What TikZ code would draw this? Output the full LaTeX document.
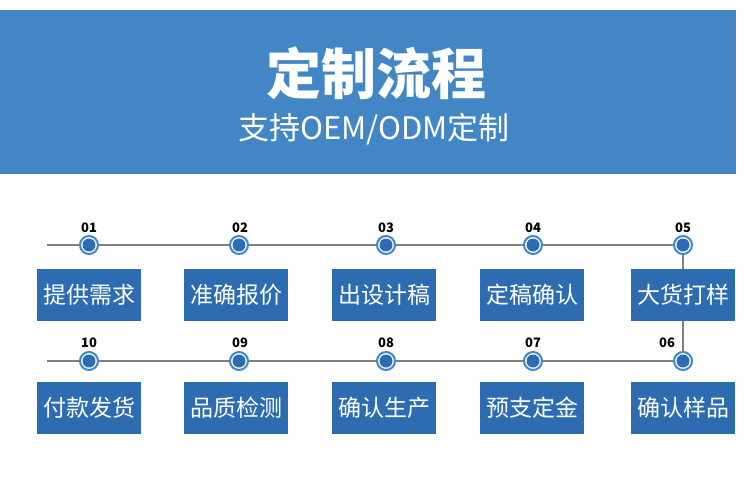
\documentclass[tikz,border=0pt]{standalone}
\usepackage{fontspec}
\newfontfamily\cjk{Noto Sans CJK SC}
\usetikzlibrary{positioning}
\definecolor{bandblue}{RGB}{66,134,198}
\definecolor{boxblue}{RGB}{46,108,178}
\definecolor{ringblue}{RGB}{62,135,204}
\definecolor{linegray}{RGB}{128,128,128}
\begin{document}
\begin{tikzpicture}[x=1pt, y=-1pt,
		stepbox/.style={fill=boxblue, text=white, minimum width=104, minimum height=52, inner sep=0, font=\cjk\fontsize{23}{23}\selectfont},
		dot/.style={circle, draw=ringblue, line width=2, fill=white, minimum size=18pt, inner sep=0,
			path picture={\fill[boxblue] (path picture bounding box.center) circle (6.5pt);}},
		num/.style={inner sep=0, font=\cjk\bfseries\fontsize{13}{13}\selectfont},
		track/.style={draw=linegray, line width=1.3}]
	
	\useasboundingbox (0,0) rectangle (750,480);
	% header
	\fill[bandblue] (0,10) rectangle (736,174);
	\node[text=white, font=\cjk\bfseries\fontsize{55}{55}\selectfont] (title) at (376,73) {定制流程};
	\node[text=white, font=\cjk\fontsize{31}{31}\selectfont] (subtitle) at (374,129) {支持OEM/ODM定制};
	
	% first row
	\node[dot] (c1) at (89,245) {};
	\node[dot] (c2) at (239,245) {};
	\node[dot] (c3) at (386,245) {};
	\node[dot] (c4) at (533,245) {};
	\node[dot] (c5) at (683,245) {};
	\coordinate (start1) at (47,245);
	\node[num] (n1) at (89,228) {01};
	\node[num] (n2) at (240,228) {02};
	\node[num] (n3) at (386,228) {03};
	\node[num] (n4) at (533,228) {04};
	\node[num] (n5) at (683,228) {05};
	\node[stepbox] (b1) at (89,295) {提供需求};
	\node[stepbox] (b2) at (236,295) {准确报价};
	\node[stepbox] (b3) at (384,295) {出设计稿};
	\node[stepbox] (b4) at (532,295) {定稿确认};
	\node[stepbox] (b5) at (683,295) {大货打样};
	
	% second row
	\node[dot] (c10) at (89,361) {};
	\node[dot] (c9) at (239,361) {};
	\node[dot] (c8) at (386,361) {};
	\node[dot] (c7) at (533,361) {};
	\node[dot] (c6) at (683,361) {};
	\coordinate (start2) at (47,361);
	\node[num] (n10) at (89,343) {10};
	\node[num] (n9) at (240,343) {09};
	\node[num] (n8) at (386,343) {08};
	\node[num] (n7) at (533,343) {07};
	\node[num] (n6) at (667,343) {06};
	\node[stepbox] (b10) at (89,408) {付款发货};
	\node[stepbox] (b9) at (236,408) {品质检测};
	\node[stepbox] (b8) at (384,408) {确认生产};
	\node[stepbox] (b7) at (532,408) {预支定金};
	\node[stepbox] (b6) at (683,408) {确认样品};
	
	% tracks
	\draw[track] (start1) -- (c1) (c1) -- (c2) (c2) -- (c3) (c3) -- (c4) (c4) -- (c5);
	\draw[track] (c5) -- (b5) (b5) -- (c6);
	\draw[track] (start2) -- (c10) (c10) -- (c9) (c9) -- (c8) (c8) -- (c7) (c7) -- (c6);
\end{tikzpicture}
\end{document}
